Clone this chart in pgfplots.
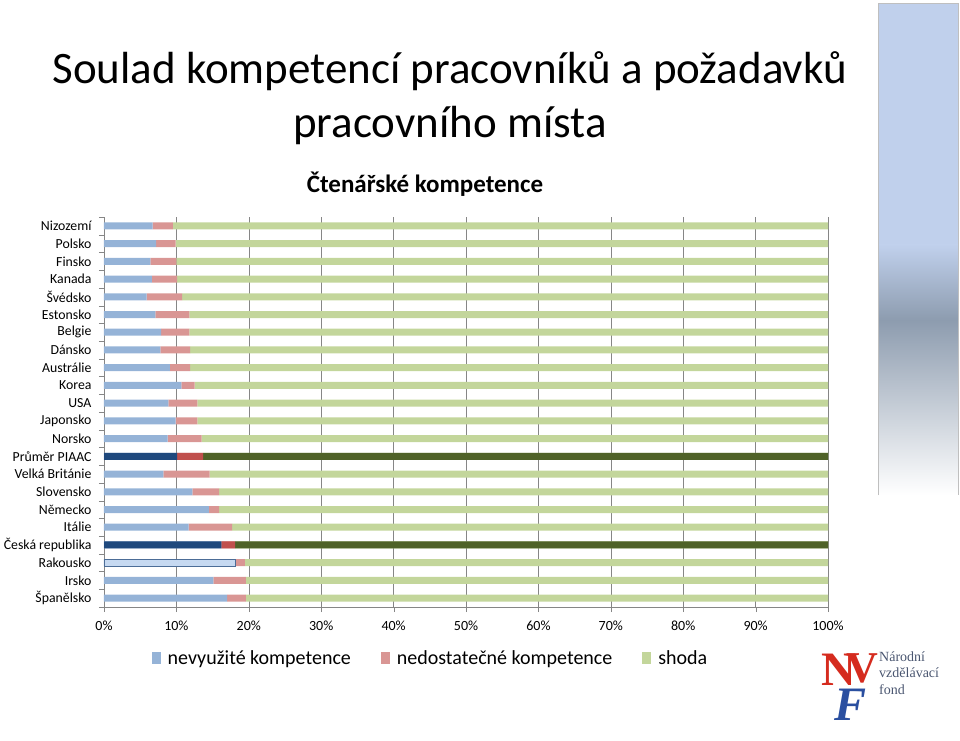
\documentclass[border=0pt]{standalone}
\usepackage{fontspec}
\setmainfont{Carlito}
\newfontfamily\serif{Liberation Serif}
\usepackage{pgfplots}
\pgfplotsset{compat=1.18}
\definecolor{cb}{HTML}{95B3D7}
\definecolor{cr}{HTML}{D99694}
\definecolor{cg}{HTML}{C3D69B}
\definecolor{hb}{HTML}{1F497D}
\definecolor{hr}{HTML}{C0504D}
\definecolor{hg}{HTML}{4F6228}
\definecolor{rb}{HTML}{C6D9F1}
\definecolor{gridc}{HTML}{868686}
\definecolor{decobl}{HTML}{C0D0EC}
\definecolor{decogr}{HTML}{8D9CAF}
\definecolor{nvfred}{HTML}{D52B1E}
\definecolor{nvfblue}{HTML}{2A4FA0}
\definecolor{nvftext}{HTML}{4A5670}
\pgfplotsset{
  base/.style={
    at={(104pt,133pt)}, anchor=south west,
    width=724pt, height=390pt, scale only axis,
    xmin=0, xmax=100, ymin=-0.5, ymax=21.5, y dir=reverse,
    xbar stacked, bar width=7pt,
  }
}
\begin{document}
\begin{tikzpicture}[x=1pt,y=1pt]
\path[use as bounding box] (0,0) rectangle (960,740);
% decorative bar
\fill[decobl] (878,495) rectangle (958,737);
\shade[top color=decobl, bottom color=decogr] (878,420) rectangle (958,495);
\shade[top color=decogr, bottom color=white] (878,245) rectangle (958,420);
\draw[gray!50, line width=0.6pt] (878,245) -- (878,737) -- (958,737) -- (958,245);
% titles
\node[anchor=base, font=\fontsize{45}{54}\selectfont] at (450,656) {Soulad kompetencí pracovníků a požadavků};
\node[anchor=base, font=\fontsize{45}{54}\selectfont] at (450,602) {pracovního místa};
\node[anchor=base, font=\bfseries\fontsize{25}{30}\selectfont] at (425,547) {Čtenářské kompetence};
% logo
\node[font=\serif\bfseries\fontsize{48}{48}\selectfont, text=nvfred, inner sep=0pt] at (839,70) {N};
\node[font=\serif\bfseries\fontsize{44}{44}\selectfont, text=nvfred, inner sep=0pt] at (862,72) {V};
\node[font=\serif\bfseries\itshape\fontsize{48}{48}\selectfont, text=nvfblue, inner sep=0pt] at (850,35) {F};
\node[anchor=base west, font=\serif\fontsize{14}{16}\selectfont, text=nvftext, inner sep=0pt] at (879,79) {Národní};
\node[anchor=base west, font=\serif\fontsize{14}{16}\selectfont, text=nvftext, inner sep=0pt] at (879,63) {vzdělávací};
\node[anchor=base west, font=\serif\fontsize{14}{16}\selectfont, text=nvftext, inner sep=0pt] at (879,46) {fond};

\begin{axis}[base,
  axis x line*=bottom, axis y line*=left,
  axis line style={draw=gridc},
  xtick={0,10,...,100},
  xticklabel={\pgfmathprintnumber{\tick}\%},
  /pgf/number format/assume math mode=true,
  xmajorgrids, grid style={draw=gridc, line width=0.5pt},
  tick align=outside, major tick length=5pt, minor tick length=5pt,
  tick style={draw=gridc},
  major y tick style={draw=none},
  ytick={0,...,21},
  minor ytick={-0.5,0.5,...,21.5},
  yticklabels={Nizozemí,Polsko,Finsko,Kanada,Švédsko,Estonsko,Belgie,Dánsko,Austrálie,Korea,USA,Japonsko,Norsko,Průměr PIAAC,Velká Británie,Slovensko,Německo,Itálie,Česká republika,Rakousko,Irsko,Španělsko},
  yticklabel style={font=\fontsize{13.8}{16}\selectfont, xshift=-4pt},
  xticklabel style={font=\fontsize{14}{16}\selectfont, yshift=-5pt},
  legend style={at={(0.451,-0.131)}, anchor=center, draw=none, legend columns=3,
    font=\fontsize{20}{24}\selectfont,
    /tikz/every even column/.append style={column sep=28pt},
    /tikz/every odd column/.append style={column sep=5pt}},
  legend image code/.code={\fill[#1] (0pt,-6pt) rectangle (9pt,6pt);},
]
\addplot[fill=cb, draw=none] coordinates {(6.7,0) (7.2,1) (6.4,2) (6.6,3) (5.9,4) (7.1,5) (7.9,6) (7.8,7) (9.1,8) (10.7,9) (8.9,10) (9.9,11) (8.8,12) (10.1,13) (8.2,14) (12.2,15) (14.5,16) (11.7,17) (16.2,18) (18.2,19) (15.1,20) (17.0,21)};
\addlegendentry{nevyužité kompetence}
\addplot[fill=cr, draw=none] coordinates {(2.8,0) (2.7,1) (3.6,2) (3.5,3) (4.9,4) (4.7,5) (3.9,6) (4.1,7) (2.8,8) (1.8,9) (4.0,10) (3.0,11) (4.7,12) (3.6,13) (6.4,14) (3.7,15) (1.4,16) (6.0,17) (1.9,18) (1.3,19) (4.5,20) (2.6,21)};
\addlegendentry{nedostatečné kompetence}
\addplot[fill=cg, draw=none] coordinates {(90.5,0) (90.1,1) (90.0,2) (89.9,3) (89.2,4) (88.2,5) (88.2,6) (88.1,7) (88.1,8) (87.5,9) (87.1,10) (87.1,11) (86.5,12) (86.3,13) (85.4,14) (84.1,15) (84.1,16) (82.3,17) (81.9,18) (80.5,19) (80.4,20) (80.4,21)};
\addlegendentry{shoda}
\end{axis}

\begin{axis}[base, hide axis]
\addplot[fill=hb, draw=none] coordinates {(10.1,13) (16.2,18)};
\addplot[fill=hr, draw=none] coordinates {(3.6,13) (1.9,18)};
\addplot[fill=hg, draw=none] coordinates {(86.3,13) (81.9,18)};
\end{axis}

\begin{axis}[base, hide axis]
\addplot[fill=rb, draw=hb!80, line width=0.8pt] coordinates {(18.2,19)};
\addplot[fill=cr, draw=none] coordinates {(1.3,19)};
\addplot[fill=cg, draw=none] coordinates {(80.5,19)};
\end{axis}
\end{tikzpicture}
\end{document}
